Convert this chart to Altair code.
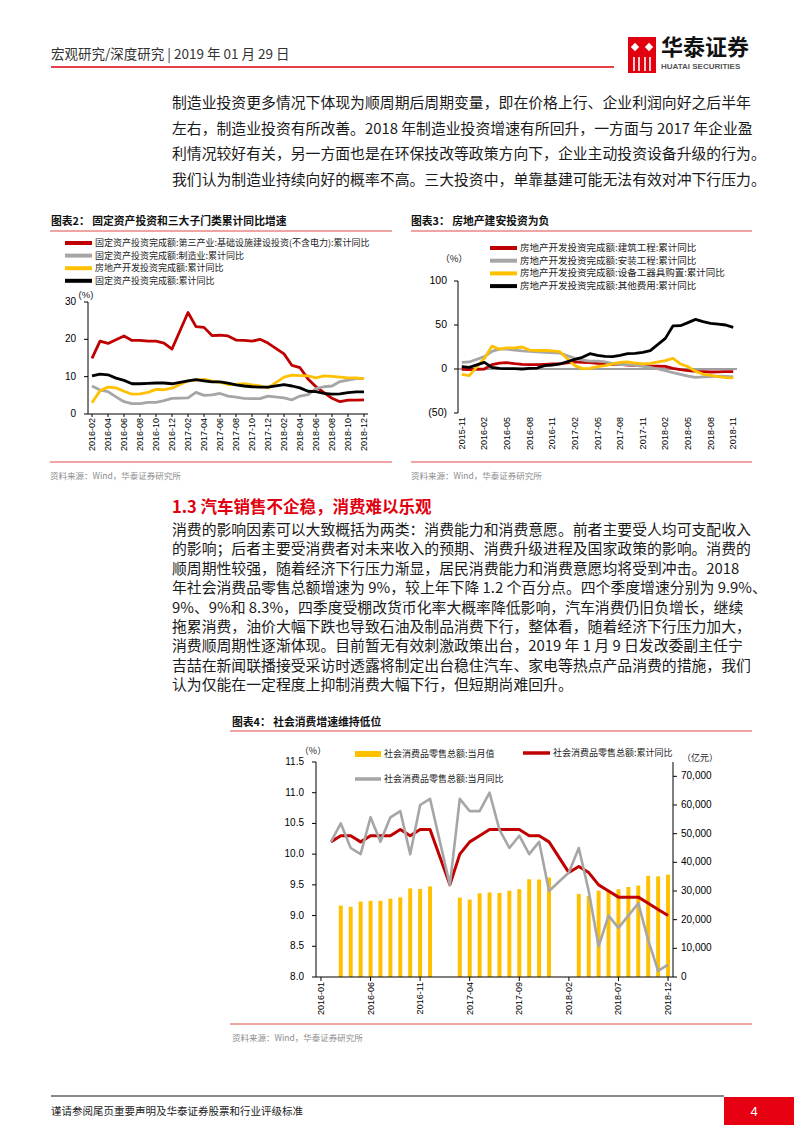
import altair as alt
import pandas as pd

CJK = "Noto Sans CJK SC"
LAT = "Liberation Sans"
RED = "#C00000"
GRAY = "#A6A6A6"
YEL = "#FFC000"
BLK = "#000000"
PAGE_RED = "#E0000F"
LINE_RED = "#E04848"


def month_range(y0, m0, y1, m1):
    out = []
    y, m = y0, m0
    while (y, m) <= (y1, m1):
        out.append(f"{y}-{m:02d}")
        m += 1
        if m > 12:
            m, y = 1, y + 1
    return out


# ---------------- Chart 2 data (cumulative yoy, %) ----------------
c2_all = month_range(2016, 2, 2018, 12)
c2_obs = [m for m in c2_all if not m.endswith("-01")]
c2_ticks = c2_all[::2]
c2_infra = [14.9, 19.5, 18.9, 19.9, 20.9, 19.7, 19.7, 19.5, 19.5, 19.0, 17.4,
            27.2, 23.4, 23.2, 21.0, 21.1, 20.9, 19.8, 19.7, 19.5, 20.0, 19.0,
            16.1, 13.0, 12.4, 9.4, 7.3, 5.7, 4.2, 3.3, 3.7, 3.7, 3.8]
c2_manuf = [7.5, 6.4, 6.0, 4.6, 3.3, 2.8, 2.8, 3.1, 3.1, 3.6, 4.2,
            4.3, 5.8, 5.0, 5.1, 5.5, 4.8, 4.5, 4.2, 4.1, 4.1, 4.8,
            4.3, 3.8, 4.8, 5.2, 6.8, 7.3, 7.5, 8.7, 9.1, 9.5, 9.5]
c2_realty = [3.0, 6.2, 7.2, 7.0, 6.1, 5.3, 5.4, 5.8, 6.6, 6.5, 6.9,
             8.9, 9.1, 9.3, 8.8, 8.5, 7.9, 7.9, 8.1, 7.8, 7.5, 7.0,
             9.9, 10.4, 10.3, 10.2, 9.7, 10.2, 10.1, 9.9, 9.7, 9.7, 9.5]
c2_fai = [10.2, 10.7, 10.5, 9.6, 9.0, 8.1, 8.1, 8.2, 8.3, 8.3, 8.1,
          8.9, 9.2, 8.9, 8.6, 8.6, 8.3, 7.8, 7.5, 7.3, 7.2, 7.2,
          7.9, 7.5, 7.0, 6.1, 6.0, 5.5, 5.3, 5.4, 5.7, 5.9, 5.9]
c2_names = ["固定资产投资完成额:第三产业:基础设施建设投资(不含电力):累计同比",
            "固定资产投资完成额:制造业:累计同比",
            "房地产开发投资完成额:累计同比",
            "固定资产投资完成额:累计同比"]
c2_yticks = [0, 10, 20, 30]
c2_ylabels = ["0", "10", "20", "30"]

# ---------------- Chart 3 data (cumulative yoy, %) ----------------
c3_all = month_range(2015, 11, 2018, 11)
c3_obs = [m for m in c3_all if not m.endswith("-01")]
c3_ticks = c3_all[::3]
c3_build = [-0.4, -0.8,
            0.0, 5.0, 6.6, 7.2, 6.0, 5.3, 4.9, 4.9, 5.3, 5.7, 5.9,
            8.0, 7.6, 7.2, 6.4, 6.0, 5.3, 5.3, 4.5, 4.2, 3.8, 3.4,
            3.0, 0.8, -0.8, -1.9, -2.7, -3.0, -3.4, -3.2, -3.0, -3.0]
c3_install = [7.5, 8.0,
              14.0, 20.0, 22.5, 22.5, 21.5, 20.5, 20.0, 19.5, 19.0, 18.5, 18.0,
              12.0, 10.0, 9.0, 9.0, 8.0, 6.0, 5.0, 5.0, 4.0, 3.0, 2.0,
              -2.0, -4.0, -6.0, -8.0, -9.5, -9.0, -8.5, -8.0, -8.5, -9.0]
c3_equip = [-6.0, -7.5,
            12.0, 26.0, 22.5, 24.0, 24.0, 25.0, 21.5, 21.0, 21.0, 20.5, 19.7,
            3.8, 0.4, 0.8, 2.7, 3.8, 5.7, 7.6, 8.0, 6.8, 5.7, 6.4,
            9.5, 12.0, 5.7, 2.7, -2.7, -5.7, -7.2, -8.7, -9.8, -10.2]
c3_other = [2.6, 1.9,
            7.5, 1.9, 0.8, 0.4, 0.4, 0.0, 0.8, 1.1, 3.8, 4.5, 5.7,
            11.0, 13.3, 17.4, 15.5, 14.4, 14.0, 15.5, 17.4, 17.8, 18.9, 20.8,
            34.8, 48.9, 49.2, 52.7, 56.4, 53.8, 51.9, 51.1, 50.0, 47.3]
c3_names = ["房地产开发投资完成额:建筑工程:累计同比",
            "房地产开发投资完成额:安装工程:累计同比",
            "房地产开发投资完成额:设备工器具购置:累计同比",
            "房地产开发投资完成额:其他费用:累计同比"]
c3_yticks = [-50, 0, 50, 100]
c3_ylabels = ["(50)", "0", "50", "100"]

# ---------------- Chart 4 data ----------------
c4_all = month_range(2016, 1, 2018, 12)
c4_line_obs = [m for m in c4_all if not m.endswith("-01")]
c4_bar_obs = [m for m in c4_all if m[-2:] not in ("01", "02")]
c4_ticks = c4_all[::5]
c4_amount = [24900, 24500, 26300, 26600, 26600, 27300, 27800, 30900, 30700, 31600,
             27700, 27000, 29200, 29500, 29300, 30100, 30600, 34100, 34000, 34700,
             29000, 28300, 30100, 30200, 30600, 31400, 31900, 35300, 35100, 35700]
c4_cum = [10.2, 10.3, 10.3, 10.2, 10.3, 10.3, 10.3, 10.4, 10.3, 10.4, 10.4,
          9.5, 10.0, 10.2, 10.3, 10.4, 10.4, 10.4, 10.4, 10.3, 10.3, 10.2,
          9.7, 9.8, 9.7, 9.5, 9.4, 9.3, 9.3, 9.3, 9.2, 9.1, 9.0]
c4_mon = [10.2, 10.5, 10.1, 10.0, 10.6, 10.2, 10.6, 10.7, 10.0, 10.8, 10.9,
          9.5, 10.9, 10.7, 10.7, 11.0, 10.4, 10.1, 10.3, 10.0, 10.2, 9.4,
          9.7, 10.1, 9.4, 8.5, 9.0, 8.8, 9.0, 9.2, 8.6, 8.1, 8.2]
c4_names = ["社会消费品零售总额:当月值", "社会消费品零售总额:累计同比", "社会消费品零售总额:当月同比"]
c4_lticks = [8.0, 8.5, 9.0, 9.5, 10.0, 10.5, 11.0, 11.5]
c4_llabels = ["8.0", "8.5", "9.0", "9.5", "10.0", "10.5", "11.0", "11.5"]
c4_rticks = [0, 10000, 20000, 30000, 40000, 50000, 60000, 70000]
c4_rlabels = ["0", "10,000", "20,000", "30,000", "40,000", "50,000", "60,000", "70,000"]

# ---------------- Page texts ----------------
header_text = "宏观研究/深度研究  | 2019 年 01 月 29 日"
para1 = ["制造业投资更多情况下体现为顺周期后周期变量，即在价格上行、企业利润向好之后半年",
         "左右，制造业投资有所改善。2018 年制造业投资增速有所回升，一方面与 2017 年企业盈",
         "利情况较好有关，另一方面也是在环保技改等政策方向下，企业主动投资设备升级的行为。",
         "我们认为制造业持续向好的概率不高。三大投资中，单靠基建可能无法有效对冲下行压力。"]
title2 = "图表2：  固定资产投资和三大子门类累计同比增速"
title3 = "图表3：  房地产建安投资为负"
title4 = "图表4：  社会消费增速维持低位"
source = "资料来源：Wind，华泰证券研究所"
heading = "1.3 汽车销售不企稳，消费难以乐观"
para2 = ["消费的影响因素可以大致概括为两类：消费能力和消费意愿。前者主要受人均可支配收入",
         "的影响；后者主要受消费者对未来收入的预期、消费升级进程及国家政策的影响。消费的",
         "顺周期性较强，随着经济下行压力渐显，居民消费能力和消费意愿均将受到冲击。2018",
         "年社会消费品零售总额增速为 9%，较上年下降 1.2 个百分点。四个季度增速分别为 9.9%、",
         "9%、9%和  8.3%，四季度受棚改货币化率大概率降低影响，汽车消费仍旧负增长，继续",
         "拖累消费，油价大幅下跌也导致石油及制品消费下行，整体看，随着经济下行压力加大，",
         "消费顺周期性逐渐体现。目前暂无有效刺激政策出台，2019 年 1 月 9 日发改委副主任宁",
         "吉喆在新闻联播接受采访时透露将制定出台稳住汽车、家电等热点产品消费的措施，我们",
         "认为仅能在一定程度上抑制消费大幅下行，但短期尚难回升。"]
footer_text = "谨请参阅尾页重要声明及华泰证券股票和行业评级标准"
page_no = "4"
logo_cn = "华泰证券"
logo_en = "HUATAI SECURITIES"

# ---------------- helpers (page pixel layout; chart origin is page (8, 8)) ----------------
O = 8


def one():
    return pd.DataFrame({"k": [0]})


def txt(px, py, s, size=12, color="#1a1a1a", weight="normal", align="left", font=CJK):
    return alt.Chart(pd.DataFrame({"t": [s]})).mark_text(
        align=align, baseline="middle", fontSize=size, color=color,
        fontWeight=weight, font=font
    ).encode(x=alt.value(px - O), y=alt.value(py - O), text="t:N")


def hline(x1, x2, py, color, w):
    return alt.Chart(one()).mark_rule(color=color, strokeWidth=w).encode(
        x=alt.value(x1 - O), x2=alt.value(x2 - O), y=alt.value(py - O))


def vline(px, y1, y2, color, w):
    return alt.Chart(one()).mark_rule(color=color, strokeWidth=w).encode(
        x=alt.value(px - O), y=alt.value(y1 - O), y2=alt.value(y2 - O))


def box(x1, x2, y1, y2, color):
    return alt.Chart(one()).mark_rect(color=color).encode(
        x=alt.value(x1 - O), x2=alt.value(x2 - O),
        y=alt.value(y1 - O), y2=alt.value(y2 - O))


def diamond(px, py, size, color):
    return alt.Chart(one()).mark_point(shape="diamond", filled=True, size=size,
                                       color=color, opacity=1).encode(
        x=alt.value(px - O), y=alt.value(py - O))


def yaxis(ticks, labels, yenc, axis_px, side, label_gap, size):
    """Manual y axis drawn through the chart's own y scale."""
    df = pd.DataFrame({"v": ticks, "lab": labels})
    d = -1 if side == "left" else 1
    tick = alt.Chart(df).mark_rule(color=BLK, strokeWidth=1).encode(
        x=alt.value(axis_px - O), x2=alt.value(axis_px - O + 4 * d), y=yenc)
    lab = alt.Chart(df).mark_text(
        align="right" if side == "left" else "left", baseline="middle",
        fontSize=size, font=LAT, color=BLK
    ).encode(x=alt.value(axis_px - O + label_gap * d), y=yenc, text="lab:N")
    return [tick, lab]


def xaxis(ticks, xenc, axis_py, tick_len, label_gap, size):
    df = pd.DataFrame({"m": ticks})
    out = []
    if tick_len > 0:
        out.append(alt.Chart(df).mark_rule(color=BLK, strokeWidth=1).encode(
            x=xenc, y=alt.value(axis_py - O), y2=alt.value(axis_py - O + tick_len)))
    out.append(alt.Chart(df).mark_text(
        align="right", baseline="middle", angle=270, fontSize=size, font=LAT, color=BLK
    ).encode(x=xenc, y=alt.value(axis_py - O + label_gap), text="m:N"))
    return out


# ---------------- Chart 2 ----------------
C2L, C2R, C2T, C2B = 88, 368, 302, 414
X2 = alt.X("m:O", scale=alt.Scale(type="point", domain=c2_all, padding=0.5,
                                  range=[C2L - O, C2R - O]), axis=None)
Y2 = alt.Y("v:Q", scale=alt.Scale(domain=[0, 30], nice=False, zero=False,
                                  range=[C2B - O, C2T - O]), axis=None)
c2_layers = []
for vals, col in [(c2_infra, RED), (c2_manuf, GRAY), (c2_realty, YEL), (c2_fai, BLK)]:
    df = pd.DataFrame({"m": c2_obs, "v": vals})
    c2_layers.append(alt.Chart(df).mark_line(color=col, strokeWidth=2.8,
                                             strokeJoin="round").encode(x=X2, y=Y2))
c2_layers += [vline(C2L, C2T, C2B, BLK, 1), hline(C2L, C2R, C2B, BLK, 1)]
c2_layers += yaxis(c2_yticks, c2_ylabels, Y2, C2L, "left", 12, 10)
c2_layers += xaxis(c2_ticks, X2, C2B, 3, 4, 9)
chart2 = alt.layer(*c2_layers)

# ---------------- Chart 3 ----------------
C3L, C3R, C3T, C3B = 458, 737, 281, 413
X3 = alt.X("m:O", scale=alt.Scale(type="point", domain=c3_all, padding=0.5,
                                  range=[C3L - O, C3R - O]), axis=None)
Y3 = alt.Y("v:Q", scale=alt.Scale(domain=[-50, 100], nice=False, zero=False,
                                  range=[C3B - O, C3T - O]), axis=None)
c3_layers = [alt.Chart(pd.DataFrame({"v": [0]})).mark_rule(color="#7F7F7F", strokeWidth=1.5)
             .encode(y=Y3, x=alt.value(C3L - O), x2=alt.value(C3R - O))]
for vals, col in [(c3_build, RED), (c3_install, GRAY), (c3_equip, YEL), (c3_other, BLK)]:
    df = pd.DataFrame({"m": c3_obs, "v": vals})
    c3_layers.append(alt.Chart(df).mark_line(color=col, strokeWidth=2.8,
                                             strokeJoin="round").encode(x=X3, y=Y3))
c3_layers.append(vline(C3L, C3T, C3B, BLK, 1))
c3_layers += yaxis(c3_yticks, c3_ylabels, Y3, C3L, "left", 11, 10.5)
c3_layers += xaxis(c3_ticks, X3, C3B, 0, 4, 9)
chart3 = alt.layer(*c3_layers)

# ---------------- Chart 4 ----------------
C4L, C4R, C4T, C4B = 316, 673, 762, 977
x4_scale = alt.Scale(type="band", domain=c4_all, paddingInner=0.6, paddingOuter=0.3,
                     range=[C4L - O, C4R - O])
X4bar = alt.X("m:O", scale=x4_scale, axis=None)
X4 = alt.X("m:O", scale=x4_scale, axis=None, bandPosition=0.5)
Y4R = alt.Y("v:Q", scale=alt.Scale(domain=[0, 75000], nice=False, zero=False,
                                   range=[C4B - O, C4T - O]), axis=None)
Y4L = alt.Y("v:Q", scale=alt.Scale(domain=[8, 11.5], nice=False, zero=False,
                                   range=[C4B - O, C4T - O]), axis=None)
bars = alt.Chart(pd.DataFrame({"m": c4_bar_obs, "v": c4_amount})).mark_bar(color=YEL).encode(
    x=X4bar, y=Y4R)
right_part = alt.layer(bars, *yaxis(c4_rticks, c4_rlabels, Y4R, C4R, "right", 8, 10))
red4 = alt.Chart(pd.DataFrame({"m": c4_line_obs, "v": c4_cum})).mark_line(
    color=RED, strokeWidth=3, strokeJoin="round").encode(x=X4, y=Y4L)
gray4 = alt.Chart(pd.DataFrame({"m": c4_line_obs, "v": c4_mon})).mark_line(
    color=GRAY, strokeWidth=2.6, strokeJoin="round").encode(x=X4, y=Y4L)
left_part = alt.layer(red4, gray4, *yaxis(c4_lticks, c4_llabels, Y4L, C4L, "left", 12, 10))
frame4 = [vline(C4L, C4T, C4B, BLK, 1), vline(C4R, C4T, C4B, BLK, 1),
          hline(C4L, C4R, C4B, BLK, 1)]
chart4 = alt.layer(right_part, left_part, *frame4, *xaxis(c4_ticks, X4, C4B, 4, 5, 9)
                   ).resolve_scale(y="independent")

# ---------------- Page texts and decorations ----------------
BODY = 14.85
items = [
    txt(51, 55, header_text, size=13.5, color="#333"),
    hline(51, 614, 67, PAGE_RED, 1.5),
    box(628, 656, 37, 73, PAGE_RED),
    diamond(635, 47, 70, "#FFFFFF"),
    diamond(649, 47, 70, "#FFFFFF"),
    vline(634, 57, 71, "#FFFFFF", 1.6),
    vline(639, 57, 71, "#FFFFFF", 1.6),
    vline(645, 57, 71, "#FFFFFF", 1.6),
    vline(650, 57, 71, "#FFFFFF", 1.6),
    txt(661, 48, logo_cn, size=22, weight="bold", color="#111"),
    txt(661, 67, logo_en, size=8, weight="bold", color="#555", font=LAT),
]
for i, line in enumerate(para1):
    items.append(txt(172, 104 + i * 25.7, line, size=BODY))
items += [
    txt(51, 222, title2, size=10.8, weight="bold", color="#111"),
    txt(411, 222, title3, size=10.8, weight="bold", color="#111"),
    hline(50, 392, 231, LINE_RED, 1),
    hline(411, 752, 231, LINE_RED, 1),
]
for i, (name, col) in enumerate(zip(c2_names, [RED, GRAY, YEL, BLK])):
    yy = 243 + i * 12.6
    items += [hline(65, 92, yy, col, 4), txt(95, yy, name, size=9, color="#222")]
items.append(txt(86, 295, "(%)", size=9.5, color="#222", align="center", font=LAT))
for i, (name, col) in enumerate(zip(c3_names, [RED, GRAY, YEL, BLK])):
    yy = 248 + i * 12.7
    items += [hline(490, 517, yy, col, 4), txt(520, yy, name, size=9.5, color="#222")]
items.append(txt(454, 259, "（%）", size=9.5, color="#222", align="center"))
items += [
    hline(50, 392, 462, LINE_RED, 1),
    hline(411, 752, 462, LINE_RED, 1),
    txt(50, 476, source, size=8.5, color="#8C8C8C"),
    txt(411, 476, source, size=8.5, color="#8C8C8C"),
    txt(172, 508, heading, size=16.5, weight="bold", color=PAGE_RED),
]
for i, line in enumerate(para2):
    items.append(txt(172, 531 + i * 19.4, line, size=BODY))
items += [
    txt(232, 723, title4, size=10.8, weight="bold", color="#111"),
    hline(230, 752, 731, LINE_RED, 1),
    hline(355, 381, 754, YEL, 6),
    txt(384, 754, c4_names[0], size=9, color="#222"),
    hline(523, 550, 753, RED, 3.5),
    txt(553, 753, c4_names[1], size=9, color="#222"),
    hline(355, 381, 779, GRAY, 3.5),
    txt(384, 779, c4_names[2], size=9, color="#222"),
    txt(313, 751, "（%）", size=9, color="#222", align="center"),
    txt(700, 758, "（亿元）", size=9, color="#222", align="center"),
    hline(230, 752, 1024, LINE_RED, 1),
    txt(232, 1038, source, size=8.5, color="#8C8C8C"),
    hline(51, 724, 1096, "#8A8A8A", 2),
    txt(51, 1112, footer_text, size=10.5, color="#222"),
    box(724, 794, 1097, 1125, "#E60012"),
    txt(754, 1112, page_no, size=13, color="#FFFFFF", font=LAT, align="center"),
]

chart = alt.layer(chart2, chart3, chart4, *items).resolve_scale(
    x="independent", y="independent"
).properties(width=786, height=1117, padding=0).configure_view(stroke=None)

chart.save("out.html", embed_options={"renderer": "svg", "actions": False})
